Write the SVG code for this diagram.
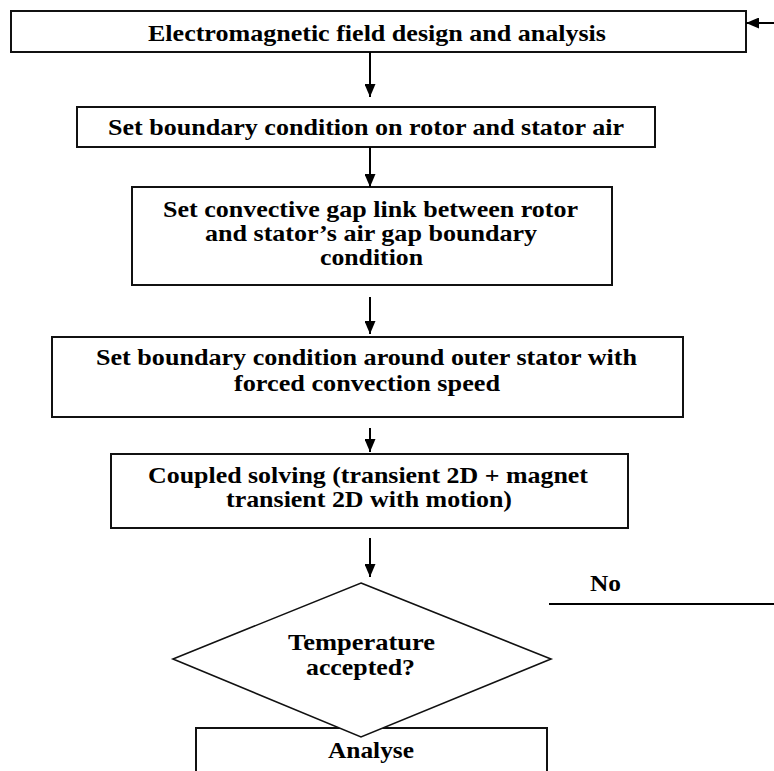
<svg xmlns="http://www.w3.org/2000/svg" width="774" height="771" viewBox="0 0 774 771">
<style>
.box{fill:#fff;stroke:#111;stroke-width:2}
.dia{fill:#fff;stroke:#111;stroke-width:1.6}
.t{font-family:"Liberation Serif","Times New Roman",serif;font-weight:bold;font-size:24px;fill:#000}
.c{stroke:#000;stroke-width:2;fill:none}
</style>
<defs>
<marker id="ah" markerUnits="userSpaceOnUse" markerWidth="13" markerHeight="11" refX="13" refY="5.5" orient="auto">
<path d="M0,0 L13,5.5 L0,11 z" fill="#000"/>
</marker>
</defs>
<rect width="774" height="771" fill="#fff"/>
<g id="n1">
<rect class="box" x="11" y="11" width="735" height="41"/>
<text class="t" x="148" y="41" textLength="458" lengthAdjust="spacingAndGlyphs">Electromagnetic field design and analysis</text>
</g>
<g id="n2">
<rect class="box" x="77" y="107" width="578" height="40"/>
<text class="t" x="108" y="135" textLength="516" lengthAdjust="spacingAndGlyphs">Set boundary condition on rotor and stator air</text>
</g>
<g id="n3">
<rect class="box" x="132" y="187" width="480" height="98"/>
<text class="t" x="163" y="217" textLength="415" lengthAdjust="spacingAndGlyphs">Set convective gap link between rotor</text>
<text class="t" x="205" y="241" textLength="332" lengthAdjust="spacingAndGlyphs">and stator’s air gap boundary</text>
<text class="t" x="320" y="265" textLength="103" lengthAdjust="spacingAndGlyphs">condition</text>
</g>
<g id="n4">
<rect class="box" x="52" y="337" width="631" height="80"/>
<text class="t" x="96" y="365" textLength="541" lengthAdjust="spacingAndGlyphs">Set boundary condition around outer stator with</text>
<text class="t" x="234" y="391" textLength="266" lengthAdjust="spacingAndGlyphs">forced convection speed</text>
</g>
<g id="n5">
<rect class="box" x="111" y="454" width="517" height="74"/>
<text class="t" x="148" y="483" textLength="440" lengthAdjust="spacingAndGlyphs">Coupled solving (transient 2D + magnet</text>
<text class="t" x="226" y="507" textLength="286" lengthAdjust="spacingAndGlyphs">transient 2D with motion)</text>
</g>
<g id="n7">
<rect class="box" x="196" y="728" width="351" height="60"/>
<text class="t" x="328" y="758" textLength="86" lengthAdjust="spacingAndGlyphs">Analyse</text>
</g>
<g id="n6">
<polygon class="dia" points="361,583 551,659 361,737 173,659"/>
<text class="t" x="288" y="650" textLength="147" lengthAdjust="spacingAndGlyphs">Temperature</text>
<text class="t" x="306" y="675" textLength="109" lengthAdjust="spacingAndGlyphs">accepted?</text>
</g>
<g id="connectors">
<line class="c" x1="370" y1="52" x2="370" y2="97" marker-end="url(#ah)"/>
<line class="c" x1="370" y1="147" x2="370" y2="187" marker-end="url(#ah)"/>
<line class="c" x1="370" y1="297" x2="370" y2="334" marker-end="url(#ah)"/>
<line class="c" x1="370" y1="428" x2="370" y2="452" marker-end="url(#ah)"/>
<line class="c" x1="370" y1="538" x2="370" y2="577" marker-end="url(#ah)"/>
<line class="c" x1="549" y1="604" x2="774" y2="604"/>
<line class="c" x1="774" y1="23" x2="746" y2="23" marker-end="url(#ah)"/>
<text class="t" x="590" y="591" textLength="31" lengthAdjust="spacingAndGlyphs">No</text>
</g>
</svg>
